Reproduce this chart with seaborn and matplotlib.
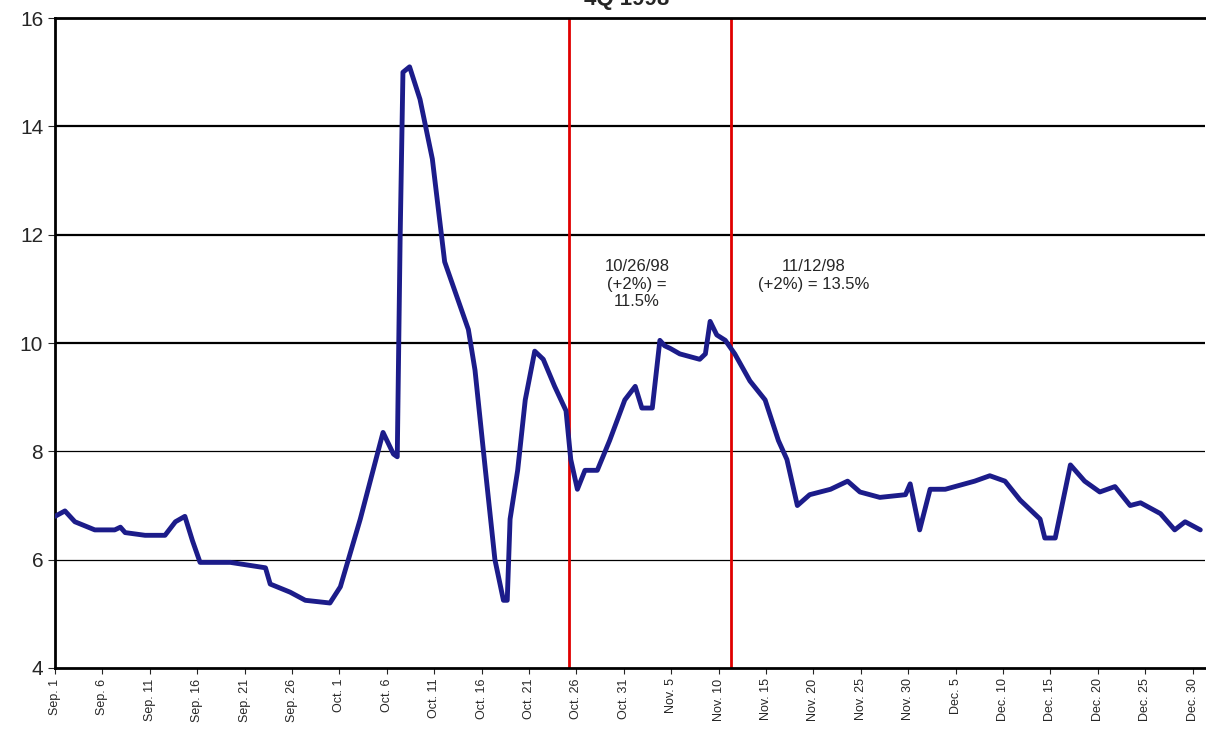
import seaborn as sns
import matplotlib.pyplot as plt
import pandas as pd

# day offset from Sep. 1 and value
days = [0, 1.05, 2.1, 4.2, 6.3, 6.9, 7.4, 9.5, 11.6, 12.7, 13.7, 14.5, 15.3, 18.5, 22.2, 22.7,
        24.8, 26.4, 29.0, 30.1, 32.2, 34.6, 35.7, 36.1, 36.4, 36.7, 37.4, 38.5, 39.8, 41.1,
        42.5, 43.6, 44.3, 45.4, 46.4, 47.3, 47.7, 48.0, 48.8, 49.6, 50.6, 51.5, 52.7, 53.9,
        54.4, 55.1, 55.9, 57.2, 58.5, 60.1, 61.2, 61.9, 63.0, 63.8, 64.3, 64.9, 65.9, 68.0,
        68.6, 69.1, 69.8, 70.7, 71.7, 73.3, 74.9, 76.3, 77.2, 78.3, 79.6, 81.8, 83.6, 84.9,
        87.0, 89.7, 90.2, 91.2, 92.3, 93.9, 97.0, 98.6, 100.2, 101.8, 103.9, 104.4, 105.5,
        107.1, 108.6, 110.2, 111.8, 113.4, 114.5, 116.6, 118.1, 119.2, 120.8]
values = [6.8, 6.9, 6.7, 6.55, 6.55, 6.6, 6.5, 6.45, 6.45, 6.7, 6.8, 6.35, 5.95, 5.95, 5.85, 5.55,
          5.4, 5.25, 5.2, 5.5, 6.75, 8.35, 7.95, 7.9, 11.9, 15.0, 15.1, 14.5, 13.4, 11.5,
          10.8, 10.25, 9.5, 7.65, 6.0, 5.25, 5.25, 6.75, 7.65, 8.95, 9.85, 9.7, 9.2, 8.75,
          7.85, 7.3, 7.65, 7.65, 8.2, 8.95, 9.2, 8.8, 8.8, 10.05, 9.95, 9.9, 9.8, 9.7,
          9.8, 10.4, 10.15, 10.05, 9.8, 9.3, 8.95, 8.2, 7.85, 7.0, 7.2, 7.3, 7.45, 7.25,
          7.15, 7.2, 7.4, 6.55, 7.3, 7.3, 7.45, 7.55, 7.45, 7.1, 6.75, 6.4, 6.4,
          7.75, 7.45, 7.25, 7.35, 7.0, 7.05, 6.85, 6.55, 6.7, 6.55]

tick_days = list(range(0, 121, 5))
tick_labels = ["Sep. 1", "Sep. 6", "Sep. 11", "Sep. 16", "Sep. 21", "Sep. 26", "Oct. 1", "Oct. 6",
               "Oct. 11", "Oct. 16", "Oct. 21", "Oct. 26", "Oct. 31", "Nov. 5", "Nov. 10",
               "Nov. 15", "Nov. 20", "Nov. 25", "Nov. 30", "Dec. 5", "Dec. 10", "Dec. 15",
               "Dec. 20", "Dec. 25", "Dec. 30"]
event_days = [54.2, 71.3]

sns.set_style("white")
plt.rcParams['font.family'] = ['Liberation Sans', 'DejaVu Sans']

df = pd.DataFrame({'day': days, 'value': values})
fig = plt.figure(figsize=(12.06, 7.36), dpi=100)
ax = fig.add_axes([0.0456, 0.0924, 0.9536, 0.883])

for y in [6, 8, 10, 12, 14]:
    ax.axhline(y, color='black', lw=1.6 if y >= 10 else 0.9, zorder=1)
for d in event_days:
    ax.axvline(d, color='#e00000', lw=2, zorder=2)

sns.lineplot(data=df, x='day', y='value', ax=ax, color='#1c1c8a', lw=3.5, zorder=3)

ax.set_xlim(0, 121.3)
ax.set_ylim(4, 16)
ax.set_xticks(tick_days)
ax.set_xticklabels(tick_labels, rotation=90, fontsize=9)
ax.set_yticks([4, 6, 8, 10, 12, 14, 16])
ax.tick_params(axis='y', labelsize=15, length=5, direction='out', left=True)
ax.tick_params(axis='x', length=4, direction='out', bottom=True)
ax.set_xlabel('')
ax.set_ylabel('')
for s in ['left', 'bottom', 'top']:
    ax.spines[s].set_color('black')
    ax.spines[s].set_linewidth(2)
ax.spines['right'].set_visible(False)

ax.text(61.4, 11.55, "10/26/98\n(+2%) =\n11.5%", ha='center', va='top', fontsize=12)
ax.text(80.0, 11.55, "11/12/98\n(+2%) = 13.5%", ha='center', va='top', fontsize=12)
fig.text(0.52, 1.0, "4Q 1998", ha='center', va='center', fontsize=16, fontweight='bold')

fig.savefig('out.png', dpi=100)
